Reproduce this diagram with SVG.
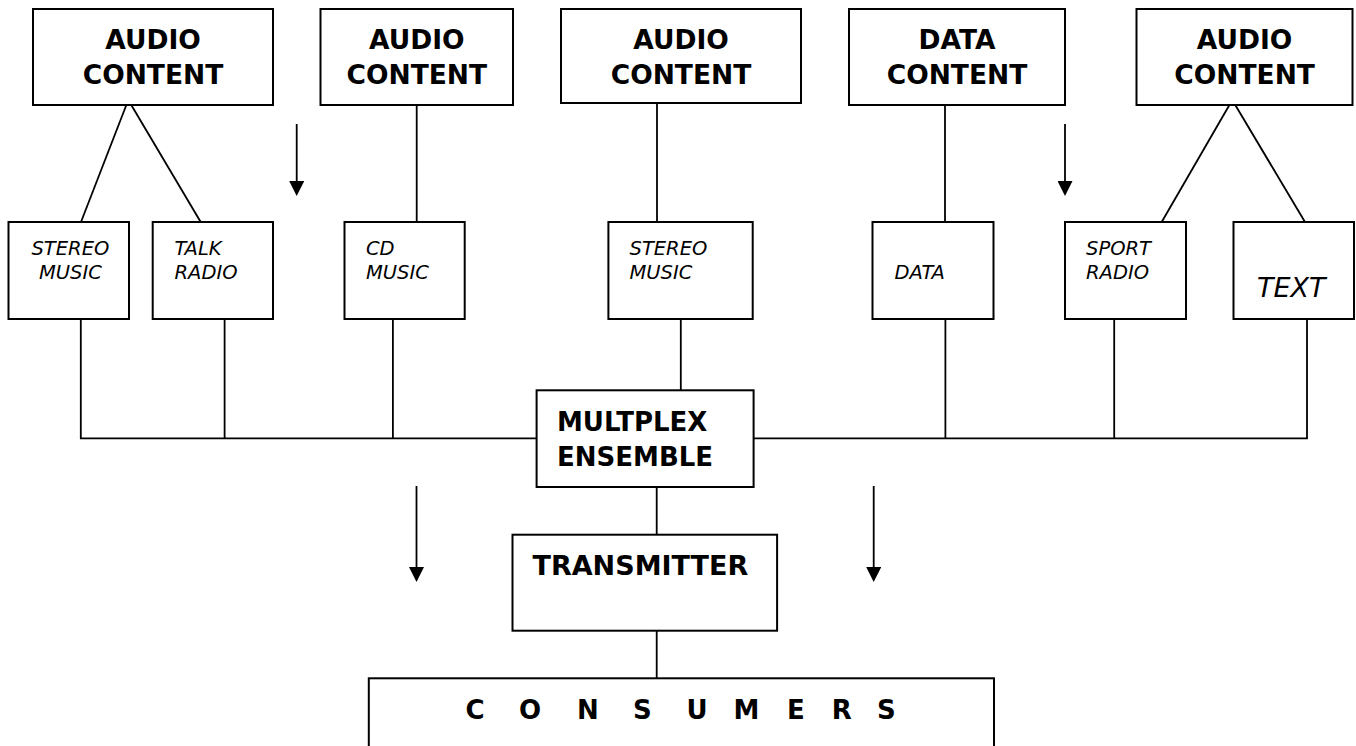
<svg xmlns="http://www.w3.org/2000/svg" width="1356" height="746" viewBox="0 0 1356 746">
<style>
  .box { fill: #ffffff; stroke: #000000; stroke-width: 2; }
  .ln { fill: none; stroke: #000000; stroke-width: 1.8; }
  .hd { font-family: "DejaVu Sans", Verdana, sans-serif; font-weight: bold; font-size: 26.5px; fill: #000; }
  .it { font-family: "DejaVu Sans", Verdana, sans-serif; font-style: italic; font-size: 19.5px; fill: #000; }
</style>
<defs>
  <marker id="ah" markerUnits="userSpaceOnUse" markerWidth="15" markerHeight="15" refX="2" refY="7.5" orient="auto">
    <path d="M0,0 L15,7.5 L0,15 z" fill="#000"/>
  </marker>
</defs>
<rect x="0" y="0" width="1356" height="746" fill="#ffffff"/>

<g id="connectors">
  <line class="ln" x1="128.3" y1="100" x2="81" y2="222"/>
  <line class="ln" x1="128.3" y1="100" x2="200.7" y2="222"/>
  <line class="ln" x1="416.7" y1="101" x2="416.7" y2="222"/>
  <line class="ln" x1="657" y1="100" x2="657" y2="222"/>
  <line class="ln" x1="945" y1="100" x2="945" y2="222"/>
  <line class="ln" x1="1232.3" y1="100" x2="1161.7" y2="222"/>
  <line class="ln" x1="1232.3" y1="100" x2="1305" y2="222"/>
  <polyline class="ln" points="80.8,319 80.8,438.3 536.6,438.3"/>
  <line class="ln" x1="224.6" y1="319" x2="224.6" y2="438.3"/>
  <line class="ln" x1="392.9" y1="319" x2="392.9" y2="438.3"/>
  <line class="ln" x1="680.8" y1="319" x2="680.8" y2="390.3"/>
  <polyline class="ln" points="1307,319 1307,438.3 753.5,438.3"/>
  <line class="ln" x1="945.4" y1="319" x2="945.4" y2="438.3"/>
  <line class="ln" x1="1114.2" y1="319" x2="1114.2" y2="438.3"/>
  <line class="ln" x1="656.7" y1="487" x2="656.7" y2="543"/>
  <line class="ln" x1="656.7" y1="631" x2="656.7" y2="678.3"/>
  <line class="ln" x1="296.7" y1="124" x2="296.7" y2="183" marker-end="url(#ah)"/>
  <line class="ln" x1="1065" y1="124" x2="1065" y2="183" marker-end="url(#ah)"/>
  <line class="ln" x1="416.5" y1="486" x2="416.5" y2="569" marker-end="url(#ah)"/>
  <line class="ln" x1="873.7" y1="486" x2="873.7" y2="569" marker-end="url(#ah)"/>
</g>

<g id="audio1">
  <rect class="box" x="33" y="9" width="240" height="96"/>
  <text class="hd" x="153" y="49" text-anchor="middle">AUDIO</text>
  <text class="hd" x="153" y="84" text-anchor="middle">CONTENT</text>
</g>
<g id="audio2">
  <rect class="box" x="320.5" y="9" width="192.5" height="96"/>
  <text class="hd" x="416.8" y="49" text-anchor="middle">AUDIO</text>
  <text class="hd" x="416.8" y="84" text-anchor="middle">CONTENT</text>
</g>
<g id="audio3">
  <rect class="box" x="561" y="9" width="240" height="94"/>
  <text class="hd" x="681" y="49" text-anchor="middle">AUDIO</text>
  <text class="hd" x="681" y="84" text-anchor="middle">CONTENT</text>
</g>
<g id="data">
  <rect class="box" x="849" y="9" width="216" height="96"/>
  <text class="hd" x="957" y="49" text-anchor="middle">DATA</text>
  <text class="hd" x="957" y="84" text-anchor="middle">CONTENT</text>
</g>
<g id="audio5">
  <rect class="box" x="1136.5" y="9" width="216" height="96"/>
  <text class="hd" x="1244.6" y="49" text-anchor="middle">AUDIO</text>
  <text class="hd" x="1244.6" y="84" text-anchor="middle">CONTENT</text>
</g>

<g id="stereo1">
  <rect class="box" x="8.5" y="222" width="120.5" height="97"/>
  <text class="it" x="70.4" y="255" text-anchor="middle">STEREO</text>
  <text class="it" x="70.4" y="279" text-anchor="middle">MUSIC</text>
</g>
<g id="talk">
  <rect class="box" x="152.7" y="222" width="120.3" height="97"/>
  <text class="it" x="174.5" y="255">TALK</text>
  <text class="it" x="174.5" y="279">RADIO</text>
</g>
<g id="cd">
  <rect class="box" x="344.5" y="222" width="120.2" height="97"/>
  <text class="it" x="366" y="255">CD</text>
  <text class="it" x="366" y="279">MUSIC</text>
</g>
<g id="stereo2">
  <rect class="box" x="608.4" y="222" width="144.3" height="97"/>
  <text class="it" x="629.5" y="255">STEREO</text>
  <text class="it" x="629.5" y="279">MUSIC</text>
</g>
<g id="datasub">
  <rect class="box" x="872.5" y="222" width="121" height="97"/>
  <text class="it" x="894.5" y="279">DATA</text>
</g>
<g id="sport">
  <rect class="box" x="1065" y="222" width="121" height="97"/>
  <text class="it" x="1086" y="255">SPORT</text>
  <text class="it" x="1086" y="279">RADIO</text>
</g>
<g id="text">
  <rect class="box" x="1233.5" y="222" width="120.5" height="97"/>
  <text class="it" x="1257" y="297" style="font-size:27px">TEXT</text>
</g>

<g id="multiplex">
  <rect class="box" x="536.6" y="390.3" width="217" height="96.7"/>
  <text class="hd" x="557" y="431" style="font-size:26px">MULTPLEX</text>
  <text class="hd" x="557" y="465.7" style="font-size:26px">ENSEMBLE</text>
</g>
<g id="transmitter">
  <rect class="box" x="512.5" y="534.7" width="264.6" height="96"/>
  <text class="hd" x="532.5" y="575.3" style="font-size:27px">TRANSMITTER</text>
</g>
<g id="consumers">
  <rect class="box" x="368.8" y="678.3" width="625.2" height="100"/>
  <text class="hd" y="719" style="font-size:26px" x="465.5 495 519 552 577 608 633 664 686.5 715 733.5 765 787 815 831.8 858 877">C O N S U M E R S</text>
</g>
</svg>
